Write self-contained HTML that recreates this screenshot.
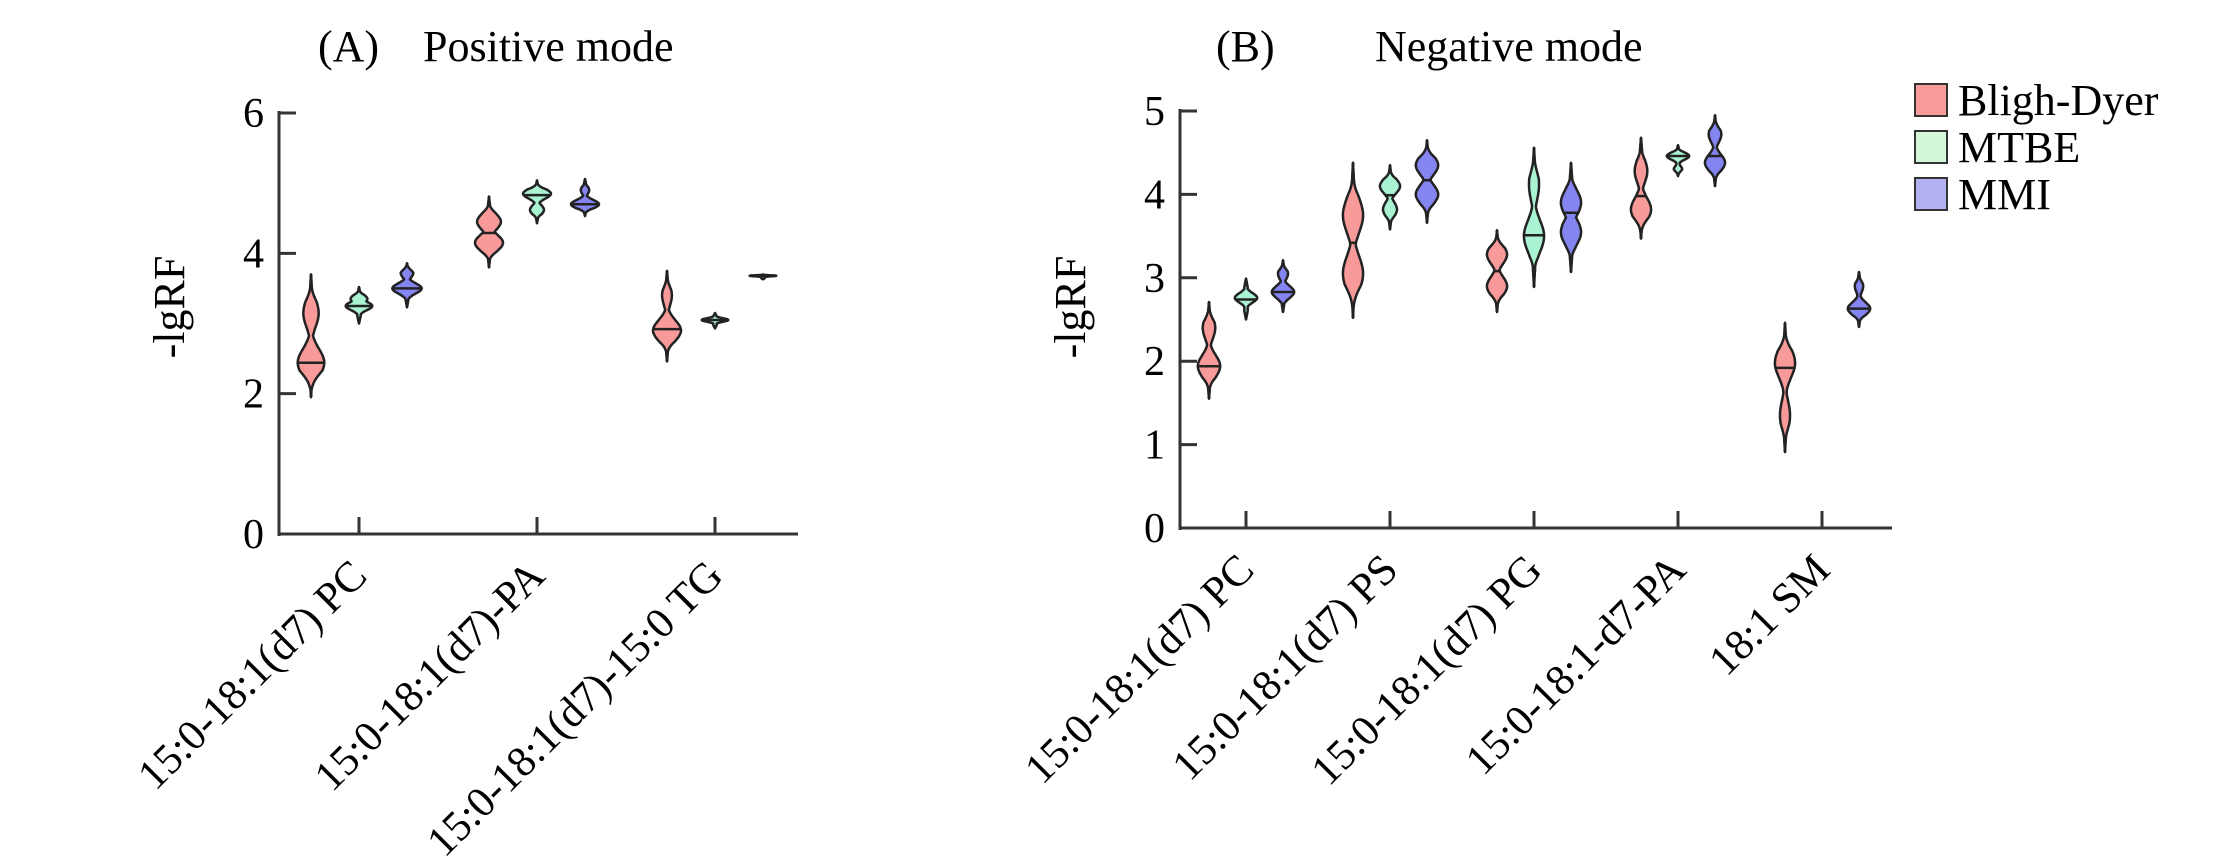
<!DOCTYPE html>
<html><head><meta charset="utf-8">
<style>
html,body{margin:0;padding:0;background:#fff;}
svg{display:block;font-family:"Liberation Serif",serif;}
</style></head>
<body>
<svg id="chart" width="2213" height="866" viewBox="0 0 2213 866" xmlns="http://www.w3.org/2000/svg">
<text x="318" y="61" font-size="44">(A)</text>
<text x="423" y="61" font-size="44">Positive mode</text>
<text x="1216" y="61" font-size="44">(B)</text>
<text x="1375" y="61" font-size="44">Negative mode</text>
<g id="legend">
 <rect x="1915" y="84" width="32" height="32" fill="#fb9a9a" stroke="#333" stroke-width="2"/>
 <text x="1958" y="115" font-size="44">Bligh-Dyer</text>
 <rect x="1915" y="131" width="32" height="32" fill="#d4f7dc" stroke="#333" stroke-width="2"/>
 <text x="1958" y="162" font-size="44">MTBE</text>
 <rect x="1915" y="178" width="32" height="32" fill="#b2b2f2" stroke="#333" stroke-width="2"/>
 <text x="1958" y="209" font-size="44">MMI</text>
</g>
</svg>
<script>
// ---- Panel A data ----
const catsA = ["15:0-18:1(d7) PC", "15:0-18:1(d7)-PA", "15:0-18:1(d7)-15:0 TG"];
const ticksA = [0, 2, 4, 6];
// each violin: [min, max, median, bump1 value, bump1 rel width, bump2 value, bump2 rel width]
const blighA = [[1.95,3.70,2.44, 2.44,0.95, 3.15,0.55],[3.80,4.81,4.29, 4.45,0.85, 4.15,1.0],[2.46,3.75,2.92, 2.90,1.0, 3.40,0.35]];
const mtbeA  = [[3.00,3.52,3.25, 3.25,0.95, 3.35,0.6],[4.43,5.04,4.83, 4.85,1.0, 4.62,0.5],[2.93,3.15,3.05, 3.05,0.95, 3.05,0.9]];
const mmiA   = [[3.23,3.86,3.50, 3.50,1.05, 3.72,0.45],[4.53,5.06,4.70, 4.70,1.0, 4.90,0.3],[3.63,3.70,3.68, 3.68,0.95, 3.68,0.9]];
// ---- Panel B data ----
const catsB = ["15:0-18:1(d7) PC", "15:0-18:1(d7) PS", "15:0-18:1(d7) PG", "15:0-18:1-d7-PA", "18:1 SM"];
const ticksB = [0, 1, 2, 3, 4, 5];
const blighB = [[1.55,2.71,1.94, 1.94,0.8, 2.40,0.45],[2.52,4.38,3.42, 3.75,0.72, 3.05,0.72],[2.59,3.57,3.08, 3.28,0.72, 2.90,0.72],[3.47,4.68,3.98, 4.28,0.45, 3.82,0.72],[0.91,2.46,1.92, 1.98,0.72, 1.35,0.36]];
const mtbeB  = [[2.50,2.99,2.74, 2.76,0.8, 2.76,0.8],[3.58,4.35,3.99, 4.10,0.72, 3.82,0.5],[2.89,4.56,3.51, 3.50,0.72, 4.12,0.36],[4.22,4.59,4.46, 4.46,0.8, 4.30,0.3],null];
const mmiB   = [[2.59,3.21,2.83, 2.83,0.8, 3.05,0.36],[3.66,4.65,4.17, 4.35,0.8, 4.00,0.8],[3.07,4.38,3.78, 3.90,0.72, 3.55,0.72],[4.10,4.95,4.46, 4.38,0.72, 4.72,0.45],[2.41,3.07,2.63, 2.63,0.8, 2.90,0.3]];

const NS = "http://www.w3.org/2000/svg";
const svg = document.getElementById("chart");
const fills = ["#f99a9a", "#a9f2d2", "#8585f2"];

function mk(tag, attrs, parent) {
  const e = document.createElementNS(NS, tag);
  for (const k in attrs) e.setAttribute(k, attrs[k]);
  (parent || svg).appendChild(e);
  return e;
}

function drawPanel(p) {
  const g = mk("g", {});
  
  
  const y = v => p.y0 - (v - p.vmin) / (p.vmax - p.vmin) * (p.y0 - p.y1);
  const x = i => p.firstTick + i * p.step;
  const ya = mk("line", {x1: p.ax, y1: y(p.vmax) - 2, x2: p.ax, y2: p.y0 + 2, stroke: "#333", "stroke-width": 3}, g);
  
  
  const xa = mk("line", {x1: p.ax, y1: p.y0, x2: p.axEnd, y2: p.y0, stroke: "#333", "stroke-width": 3}, g);
  
  
  p.ticks.forEach(t => {
    const tl = mk("line", {x1: p.ax, y1: y(t), x2: p.ax + 17, y2: y(t), stroke: "#333", "stroke-width": 3}, g);
    
    
    const tx = mk("text", {x: p.ax - 15, y: y(t) + 14, "font-size": 42, "text-anchor": "end"}, g);
    tx.textContent = t;
    
    
  });
  const yl = mk("text", {x: 0, y: 0, "font-size": 44, "text-anchor": "middle", transform: `translate(${p.ax - 95},${p.ylc}) rotate(-90)`}, g);
  yl.textContent = "-lgRF";
  
  
  p.cats.forEach((c, i) => {
    const tk = mk("line", {x1: x(i), y1: p.y0, x2: x(i), y2: p.y0 - 17, stroke: "#333", "stroke-width": 3}, g);
    
    
    const lb = mk("text", {x: 0, y: 0, "font-size": 43, "text-anchor": "end", transform: `translate(${x(i) + 10},${p.y0 + 44}) rotate(-45)`}, g);
    lb.textContent = c;
    
    
  });
  [p.s1, p.s2, p.s3].forEach((series, si) => {
    series.forEach((d, i) => {
      if (!d) return;
      const cx = x(i) + (si - 1) * p.off;
      const [mn, mx, med, b1, w1, b2, w2] = d;
      const rng = mx - mn;
      const sig = rng * 0.16;
      const N = 60, right = [];
      for (let k = 0; k <= N; k++) {
        const v = mn + rng * k / N;
        const taper = Math.min(1, Math.sin(Math.PI * k / N) * 1.6);
        let w = Math.max(w1 * Math.exp(-Math.pow((v - b1) / sig, 2)), w2 * Math.exp(-Math.pow((v - b2) / sig, 2)));
        w = Math.max(w, 0.12) * taper * 14;
        right.push([cx + w, y(v)]);
      }
      const left = right.map(pt => [2 * cx - pt[0], pt[1]]).reverse();
      const pts = right.concat(left).map(pt => pt[0].toFixed(1) + "," + pt[1].toFixed(1)).join(" ");
      const vg = mk("g", {}, g);
      
      
      mk("line", {x1: cx, y1: y(mx), x2: cx, y2: y(mn), stroke: "#222", "stroke-width": 3}, vg);
      mk("polygon", {points: pts, fill: fills[si], stroke: "#222", "stroke-width": 2.5, "stroke-linejoin": "round"}, vg);
      let wm = Math.max(w1 * Math.exp(-Math.pow((med - b1) / sig, 2)), w2 * Math.exp(-Math.pow((med - b2) / sig, 2)));
      wm = Math.max(wm, 0.12) * 14;
      const ml = mk("line", {x1: cx - wm, y1: y(med), x2: cx + wm, y2: y(med), stroke: "#222", "stroke-width": 2.5}, vg);
      
      
    });
  });
}

drawPanel({name: "panel-a-plot", cats: catsA, ticks: ticksA, vmin: 0, vmax: 6, y0: 534, y1: 113,
  ax: 279, axEnd: 798, firstTick: 359, step: 178, off: 48, ylc: 307, s1: blighA, s2: mtbeA, s3: mmiA});
drawPanel({name: "panel-b-plot", cats: catsB, ticks: ticksB, vmin: 0, vmax: 5, y0: 528, y1: 111,
  ax: 1180, axEnd: 1892, firstTick: 1246, step: 144, off: 37, ylc: 307, s1: blighB, s2: mtbeB, s3: mmiB});
</script>
</body></html>
